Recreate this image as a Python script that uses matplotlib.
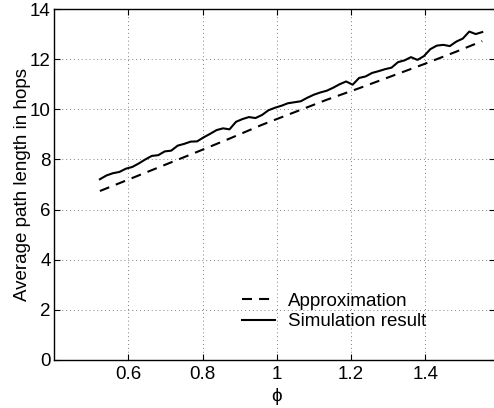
import numpy as np
import matplotlib
matplotlib.use("Agg")
import matplotlib.pyplot as plt

plt.rcParams['font.family'] = ['Liberation Sans', 'DejaVu Sans']

# Simulation samples: angle phi in 1-degree steps from 30 to 89 degrees
sim_deg = np.arange(30, 90)
sim_hops = [7.21, 7.36, 7.45, 7.50, 7.63, 7.70, 7.84, 8.00, 8.14, 8.17,
            8.32, 8.35, 8.55, 8.62, 8.71, 8.72, 8.88, 9.02, 9.17, 9.24,
            9.20, 9.50, 9.61, 9.69, 9.65, 9.77, 9.96, 10.06, 10.14, 10.24,
            10.28, 10.32, 10.46, 10.58, 10.67, 10.74, 10.86, 11.00, 11.11, 10.98,
            11.25, 11.31, 11.45, 11.52, 11.60, 11.66, 11.88, 11.95, 12.08, 11.97,
            12.12, 12.40, 12.54, 12.57, 12.52, 12.70, 12.82, 13.10, 13.00, 13.08]

# Analytical approximation
approx_deg = [30, 35, 40, 45, 50, 55, 60, 65, 70, 75, 80, 85, 89]
approx_hops = [6.74, 7.26, 7.78, 8.30, 8.83, 9.38, 9.88, 10.38, 10.84,
               11.32, 11.80, 12.30, 12.72]

xticks = [0.6, 0.8, 1.0, 1.2, 1.4]
xticklabels = ["0.6", "0.8", "1", "1.2", "1.4"]
yticks = [0, 2, 4, 6, 8, 10, 12, 14]

W, H = 494, 408
fig = plt.figure(figsize=(W / 100, H / 100), dpi=100)
ax = fig.add_axes([54.3 / W, 48 / H, 440.2 / W, 351 / H])

ax.plot(np.radians(approx_deg), approx_hops, color='black', lw=1.5,
        dashes=(4.8, 3.4), label='Approximation')
ax.plot(np.radians(sim_deg), sim_hops, color='black', lw=1.5,
        label='Simulation result')

ax.set_xlim(0.4007, 1.5864)
ax.set_ylim(0, 14)
ax.set_xticks(xticks)
ax.set_xticklabels(xticklabels)
ax.set_yticks(yticks)

fs = 13.5
ax.tick_params(direction='in', length=4, width=0.8, top=True, right=True,
               labelsize=fs, colors='black')
ax.tick_params(axis='x', pad=4.5)
ax.tick_params(axis='y', pad=2.5)
for s in ax.spines.values():
    s.set_linewidth(1.0)
    s.set_color('black')

ax.grid(True, color='0.5', linestyle=(0, (1, 3)), linewidth=0.7)
ax.set_axisbelow(True)

ax.set_ylabel('Average path length in hops', fontsize=fs)
ax.yaxis.set_label_coords(-0.052, 0.5)
ax.set_xlabel('\u03d5', fontsize=fs)
ax.xaxis.set_label_coords((276.7 - 54.3) / 440.2, -0.08)

leg = ax.legend(loc='upper left',
                bbox_to_anchor=((241.7 - 54.3) / 440.2, (360 - 292.5) / 351),
                frameon=False, fontsize=fs, handlelength=1.8,
                handletextpad=0.65, labelspacing=0.2, borderpad=0,
                borderaxespad=0)

fig.savefig('out.png', dpi=100)
